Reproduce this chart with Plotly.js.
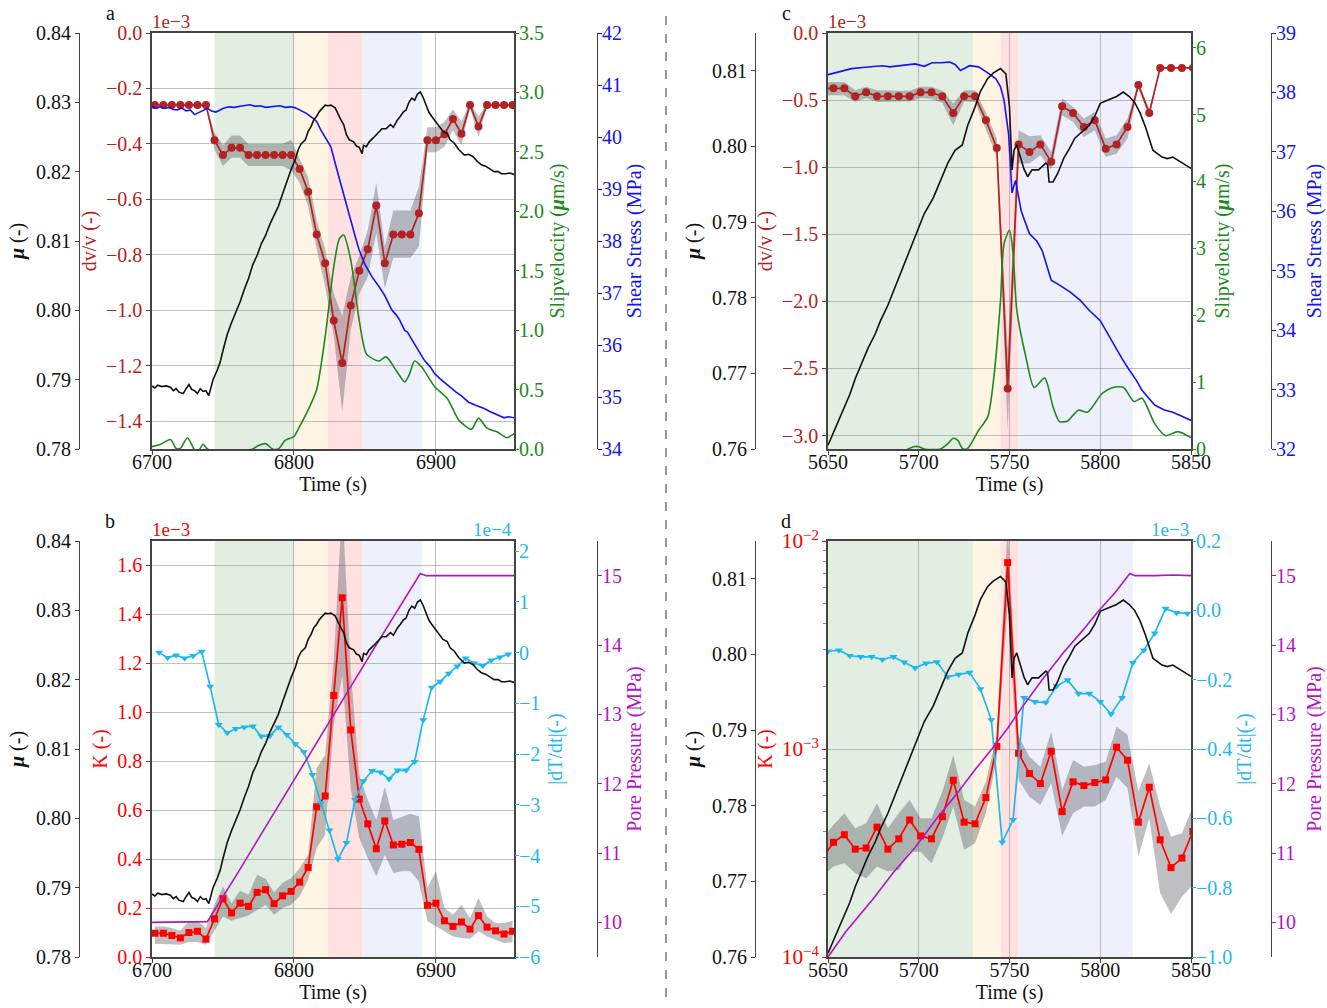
<!DOCTYPE html>
<html>
<head>
<meta charset="utf-8">
<script src="https://cdn.plot.ly/plotly-3.0.1.min.js"></script>
<style>html,body{margin:0;padding:0;background:#fff}</style>
</head>
<body>
<div id="chart" style="width:1327px;height:1008px"></div>
<script>
// ── event 1 (panels a, b) ─────────────────────────────────────────────────────
const aPhases = [6744, 6800.5, 6824, 6848, 6890];

const aMuTime = [6700,6702,6704,6707,6710,6713,6715,6717,6719,6722,6724,6726,6728,6730,6732,6734,6736,6738,6740,6743,6746,6748,6750,6753,6756,6759,6762,6765,6768,6771,6774,6777,6780,6783,6786,6789,6792,6795,6798,6801,6803,6805,6808,6810,6812,6814,6816,6818,6820,6822,6824,6826,6829,6831,6833,6835,6837,6839,6842,6844,6846,6848,6849,6851,6853,6856,6859,6862,6865,6868,6870,6873,6875,6877,6879,6881,6883,6885,6887,6889,6891,6893,6895,6897,6900,6903,6905,6908,6910,6913,6916,6918,6920,6923,6926,6929,6932,6935,6938,6941,6944,6946,6949,6952,6955];
const aMu = [.7891,.7888,.7892,.7890,.7891,.7889,.7884,.7887,.7882,.7880,.7887,.7893,.7886,.7884,.7880,.7887,.7883,.7884,.7877,.7900,.7914,.7925,.7942,.7965,.7982,.7997,.8012,.8030,.8046,.8066,.8079,.8096,.8108,.8124,.8136,.8150,.8168,.8186,.8203,.8218,.8232,.8240,.8246,.8258,.8265,.8275,.8280,.8287,.8292,.8296,.8295,.8296,.8292,.8283,.8275,.8268,.8253,.8246,.8243,.8237,.8235,.8226,.8238,.8236,.8243,.8249,.8256,.8262,.8262,.8268,.8264,.8275,.8280,.8286,.8289,.8300,.8306,.8303,.8312,.8315,.8307,.8297,.8286,.8280,.8272,.8265,.8258,.8255,.8246,.8241,.8232,.8228,.8224,.8225,.8222,.8215,.8210,.8208,.8204,.8200,.8200,.8197,.8197,.8198,.8196];

const aSample = [6702,6708,6714,6720,6726,6732,6738,6744,6750,6756,6762,6768,6774,6780,6786,6792,6798,6804,6810,6816,6822,6828,6834,6840,6846,6852,6858,6864,6870,6876,6882,6888,6894,6900,6906,6912,6918,6924,6930,6936,6942,6948,6954];
const aDvv = [-.26,-.26,-.26,-.26,-.26,-.26,-.26,-.387,-.44,-.414,-.414,-.44,-.44,-.44,-.44,-.44,-.44,-.49,-.572,-.727,-.83,-1.037,-1.19,-.983,-.857,-.78,-.622,-.83,-.727,-.727,-.727,-.65,-.387,-.387,-.365,-.31,-.363,-.26,-.337,-.26,-.26,-.26,-.26];
const aDvvUp = [-.255,-.255,-.255,-.255,-.255,-.255,-.255,-.36,-.405,-.37,-.37,-.40,-.40,-.40,-.40,-.40,-.385,-.45,-.52,-.675,-.78,-.94,-1.02,-.88,-.805,-.71,-.54,-.77,-.64,-.64,-.64,-.555,-.34,-.34,-.32,-.275,-.32,-.25,-.30,-.255,-.255,-.255,-.255];
const aDvvLo = [-.265,-.265,-.265,-.265,-.265,-.265,-.265,-.42,-.48,-.45,-.45,-.48,-.48,-.48,-.48,-.48,-.495,-.54,-.625,-.78,-.915,-1.09,-1.365,-1.07,-.94,-.88,-.72,-.92,-.81,-.81,-.81,-.77,-.43,-.43,-.41,-.35,-.405,-.27,-.375,-.265,-.265,-.265,-.265];

const aSlipTime = [6700,6706,6713,6717,6720,6725,6729.5,6732,6736,6739,6750,6771,6775,6780,6785,6789,6794,6800,6804,6811,6816,6822,6828,6832,6835,6840,6846,6851,6857,6860,6865,6872,6878,6881,6885,6890,6899,6908,6916,6925,6930,6936,6943,6950,6955];
const aSlip = [.02,.04,.08,.005,.005,.095,0,-.03,.04,0,-.05,0,.03,.045,0,0,.075,.105,.19,.355,.5,.945,1.53,1.77,1.8,1.59,1.08,.8,.75,.74,.775,.66,.565,.62,.74,.69,.525,.425,.245,.165,.26,.175,.145,.095,.13];

const aShearTime = [6700,6703,6706,6709,6712,6715,6718,6721,6724,6727,6730,6733,6735,6739,6742,6745,6748,6750,6754,6758,6762,6766,6769,6773,6776,6780,6783,6787,6790,6794,6798,6801,6804,6807,6809,6813,6816,6819,6823,6826,6830,6834,6837,6840,6843,6846,6850,6855,6860,6864,6867,6869,6872,6874,6878,6880,6882,6886,6889,6892,6896,6899,6903,6906,6910,6914,6918,6923,6928,6934,6938,6941,6945,6948,6951,6955];
const aShear = [40.59,40.55,40.58,40.55,40.57,40.53,40.52,40.56,40.5,40.52,40.43,40.47,40.5,40.55,40.5,40.48,40.52,40.55,40.58,40.57,40.59,40.6,40.62,40.59,40.6,40.57,40.58,40.6,40.6,40.57,40.58,40.56,40.52,40.49,40.45,40.37,40.3,40.13,39.95,39.81,39.4,38.98,38.7,38.4,38.1,37.82,37.55,37.31,37.12,36.95,36.78,36.67,36.58,36.5,36.28,36.25,36.15,35.96,35.82,35.7,35.58,35.45,35.35,35.28,35.18,35.1,35.02,34.9,34.84,34.78,34.72,34.68,34.63,34.6,34.62,34.6];

const aK = [.097,.097,.088,.078,.10,.105,.073,.156,.238,.18,.22,.207,.264,.275,.218,.25,.268,.306,.366,.614,.658,1.069,1.468,.928,.645,.544,.442,.556,.458,.461,.468,.44,.211,.22,.148,.125,.143,.114,.169,.122,.107,.094,.105];
const aKUp = [.125,.125,.118,.107,.146,.148,.118,.214,.288,.22,.271,.254,.336,.32,.265,.302,.322,.363,.418,.771,.826,1.207,1.85,1.166,.744,.642,.56,.697,.56,.574,.585,.574,.282,.35,.2,.173,.214,.159,.241,.166,.139,.139,.148];
const aKLo = [.053,.053,.053,.05,.061,.061,.05,.107,.166,.148,.159,.17,.193,.214,.173,.2,.214,.248,.316,.445,.5,.948,1.15,.69,.486,.404,.329,.418,.343,.35,.35,.309,.146,.125,.105,.084,.078,.075,.105,.084,.071,.057,.06];

const aDtTime = [6705,6711,6717,6723,6729,6735,6741,6747,6753,6759,6765,6771,6777,6783,6789,6795,6801,6807,6813,6819,6825,6831,6837,6843,6849,6855,6861,6867,6873,6879,6885,6891,6897,6903,6909,6915,6921,6927,6933,6939,6945,6951];
const aDt = [0,-.1,-.05,-.11,-.06,.02,-.67,-1.42,-1.58,-1.5,-1.47,-1.45,-1.65,-1.64,-1.47,-1.62,-1.8,-1.96,-2.41,-2.97,-3.5,-4.07,-3.75,-2.9,-2.53,-2.33,-2.36,-2.49,-2.32,-2.32,-2.15,-1.33,-.69,-.57,-.41,-.27,-.11,-.21,-.26,-.15,-.09,-.03];

const aPoreTime = [6700,6720,6739,6760,6780,6800,6820,6840,6860,6880,6889,6893,6905,6920,6935,6955];
const aPore = [10.0,10.0,10.01,10.7,11.38,12.05,12.72,13.4,14.07,14.73,15.03,15.0,15.0,15.01,15.0,15.0];

// ── event 2 (panels c, d) ─────────────────────────────────────────────────────
const cPhases = [5650, 5730, 5745, 5755, 5818];

const cMuTime = [5650,5654,5658,5662,5665,5669,5672,5676,5679,5683,5686,5691,5696,5700,5703,5708,5712,5716,5720,5724,5727,5731,5734,5738,5741,5745,5748,5750,5751.4,5752.5,5754,5756.5,5758,5760,5762.4,5766,5768,5770,5771,5771.8,5774,5776.5,5780,5783,5786,5790,5794,5797,5800,5803,5806,5809,5812.7,5816,5819,5822,5825,5829,5834,5837,5840,5845.5,5850];
const cMu = [.7605,.7628,.7651,.7672,.7693,.7715,.7733,.7752,.7770,.7790,.7808,.7838,.7867,.7892,.7911,.7932,.7956,.7978,.7995,.8002,.8028,.8052,.8073,.8090,.8097,.8103,.8096,.8052,.7969,.7995,.8002,.7982,.7970,.7960,.7969,.7969,.7974,.7978,.7976,.7953,.7953,.7964,.7985,.7997,.8011,.8020,.8028,.8040,.8057,.8060,.8063,.8066,.8072,.8066,.8058,.8044,.8025,.7995,.7986,.7984,.7986,.7978,.7971];

const cSample = [5647,5653,5659,5665,5671,5677,5683,5689,5695,5701,5707,5713,5719,5725,5731,5737,5743,5749,5755,5761,5767,5773,5779,5785,5791,5797,5803,5809,5815,5821,5827,5833,5839,5845,5851];
const cDvv = [-.412,-.412,-.412,-.472,-.442,-.472,-.472,-.472,-.472,-.442,-.442,-.472,-.596,-.472,-.472,-.65,-.857,-2.65,-.83,-.886,-.83,-.96,-.546,-.596,-.7,-.65,-.862,-.83,-.7,-.387,-.596,-.26,-.26,-.26,-.26];
const cDvvUp = [-.365,-.365,-.365,-.427,-.40,-.427,-.43,-.43,-.43,-.40,-.40,-.43,-.526,-.427,-.427,-.59,-.787,-2.36,-.725,-.77,-.762,-.886,-.489,-.551,-.638,-.589,-.787,-.762,-.638,-.365,-.564,-.255,-.255,-.255,-.255];
const cDvvLo = [-.464,-.464,-.464,-.514,-.485,-.514,-.51,-.51,-.51,-.485,-.49,-.52,-.688,-.51,-.514,-.712,-.924,-2.96,-.973,-.973,-.911,-1.017,-.613,-.663,-.775,-.725,-.924,-.899,-.787,-.415,-.626,-.265,-.265,-.265,-.265];

const cSlipTime = [5650,5690,5697,5700,5703,5712,5716,5719,5721.5,5724,5726.6,5733,5738,5741,5745,5747,5750,5752,5754,5759,5763.6,5769.4,5774,5777.6,5782,5788,5793,5801,5807,5812.8,5818.6,5823,5830,5836,5842.7,5850];
const cSlip = [-.05,-.05,.035,.035,0,0,.08,.16,.13,.01,0,.28,.48,.98,2.2,3.07,3.27,2.92,2.08,1.38,.92,1.06,.63,.41,.42,.58,.55,.83,.92,.92,.71,.76,.38,.2,.26,.17];

const cShearTime = [5650,5656,5663,5669,5675,5680,5684,5691,5698,5703,5707.4,5712,5717,5720,5723,5728,5733,5738,5742.5,5745,5747,5749.5,5751.4,5753.3,5756.5,5761,5765,5768,5773,5778,5783.5,5789,5794,5800,5804,5808,5812,5816,5820,5823,5830,5835,5840,5845,5850];
const cShear = [38.3,38.35,38.4,38.42,38.44,38.45,38.43,38.46,38.48,38.44,38.5,38.5,38.51,38.47,38.37,38.45,38.43,38.33,38.23,38.1,37.87,37.3,36.31,36.52,36.0,35.62,35.5,35.34,34.84,34.75,34.64,34.5,34.33,34.16,33.95,33.72,33.52,33.33,33.15,32.99,32.74,32.66,32.62,32.55,32.48];

const cK = [2.99e-4,3.56e-4,3.87e-4,3.30e-4,3.34e-4,4.21e-4,3.30e-4,3.70e-4,4.56e-4,3.82e-4,3.70e-4,4.73e-4,7.08e-4,4.45e-4,4.37e-4,5.84e-4,1.03e-3,7.87e-3,9.53e-4,7.62e-4,6.82e-4,9.75e-4,5.0e-4,6.95e-4,6.67e-4,6.9e-4,7.1e-4,1.02e-3,8.83e-4,4.45e-4,6.55e-4,3.66e-4,2.69e-4,2.99e-4,4.01e-4];
const cKUp = [3.72e-4,4.32e-4,4.91e-4,4.16e-4,4.40e-4,5.48e-4,4.16e-4,4.91e-4,5.69e-4,4.65e-4,4.65e-4,6.24e-4,9.35e-4,5.69e-4,5.29e-4,6.97e-4,1.17e-3,1.19e-2,1.15e-3,9.18e-4,8.22e-4,1.21e-3,6.35e-4,8.85e-4,8.22e-4,8.38e-4,8.69e-4,1.28e-3,1.17e-3,6.24e-4,8.53e-4,5.29e-4,3.79e-4,3.94e-4,5.29e-4];
const cKLo = [2.44e-4,2.72e-4,2.82e-4,2.53e-4,2.39e-4,2.72e-4,2.58e-4,2.62e-4,3.21e-4,3.21e-4,2.82e-4,3.72e-4,5.29e-4,3.27e-4,3.52e-4,4.91e-4,9.02e-4,4.91e-3,7.10e-4,5.90e-4,5.38e-4,6.84e-4,3.82e-4,4.91e-4,5.29e-4,5.29e-4,5.69e-4,7.36e-4,6.47e-4,3.04e-4,4.65e-4,2.03e-4,1.61e-4,1.95e-4,2.22e-4];

const cDtTime = [5650,5656,5662,5668,5674,5680,5686,5692,5698,5704,5710,5716,5722,5728,5734,5740,5746,5752,5758,5764,5770,5776,5782,5788,5794,5800,5806,5812,5818,5824,5830,5836,5842,5848];
const cDt = [-.118,-.115,-.131,-.134,-.134,-.142,-.134,-.15,-.166,-.153,-.149,-.192,-.185,-.179,-.227,-.316,-.669,-.604,-.252,-.264,-.266,-.218,-.201,-.24,-.24,-.264,-.299,-.252,-.151,-.115,-.066,.005,-.007,-.009];

const cPoreTime = [5650,5660,5674.6,5686,5698,5710,5721.4,5731,5740.6,5749,5756.6,5768,5780,5790,5798.7,5808,5816.3,5819,5830,5840,5850];
const cPore = [9.5,9.87,10.33,10.72,11.08,11.5,11.87,12.2,12.51,12.8,13.09,13.5,13.9,14.2,14.48,14.75,15.03,15.0,15.0,15.01,15.0];

const PHASE_COLORS = ['#e2eee2', '#fff5e4', '#ffe1e1', '#eef0fc'];
const GRID = 'rgba(130,130,130,0.5)';
const SPINE = '#444444';
const SERIF = '"Liberation Serif", "Times New Roman", serif';
const C = { brick: '#b22222', red: '#ff0000', green: '#1c8a1c', blue: '#1414f0', sky: '#1fb8ee', purple: '#b414c4' };

const W = 1327, H = 1008;
const traces = [], shapes = [], annotations = [];
const layout = {
  width: W, height: H,
  margin: { t: 0, r: 0, b: 0, l: 0 },
  paper_bgcolor: '#fff', plot_bgcolor: 'rgba(0,0,0,0)',
  showlegend: false,
  font: { family: SERIF, size: 20, color: '#111' },
};

function _line(x, y, xa, ya, color, smooth) {
  const line = { color, width: 1.6 };
  if (smooth) { line.shape = 'spline'; line.smoothing = 0.7; }
  traces.push({ x, y, xaxis: xa, yaxis: ya, mode: 'lines', line, hoverinfo: 'skip' });
}

function _markers(x, y, xa, ya, color, symbol, size) {
  traces.push({
    x, y, xaxis: xa, yaxis: ya, mode: 'lines+markers',
    line: { color, width: 1.7 }, marker: { color, symbol, size }, hoverinfo: 'skip',
  });
}

function _band(x, up, lo, xa, ya) {
  traces.push({
    x: x.concat(x.slice().reverse()), y: up.concat(lo.slice().reverse()),
    xaxis: xa, yaxis: ya, mode: 'lines', line: { width: 0 },
    fill: 'toself', fillcolor: 'rgba(55,55,65,0.32)', hoverinfo: 'skip',
  });
}

function _yAxis(color, titleText, standoff, extra) {
  return Object.assign({
    title: { text: titleText, font: { size: 20, color }, standoff },
    tickfont: { size: 20, color },
    ticks: 'outside', ticklen: 4, tickcolor: color, tickwidth: 1.2,
    showgrid: false, zeroline: false, automargin: false,
  }, extra);
}

// One panel = x axis + main y axis (left) + right y axis + two free y axes
function addPanel(p) {
  const n = p.n;                       // panel number 0..3
  const xName = n === 0 ? 'x' : 'x' + (n + 1);
  const yId = i => (n * 4 + i === 1 ? 'y' : 'y' + (n * 4 + i));
  const yKey = i => (n * 4 + i === 1 ? 'yaxis' : 'yaxis' + (n * 4 + i));
  const dom = [(H - p.bottom) / H, (H - p.top) / H];

  layout[n === 0 ? 'xaxis' : 'xaxis' + (n + 1)] = {
    domain: [p.left / W, p.right / W], range: p.xRange, dtick: p.xTick, anchor: yId(1),
    title: { text: 'Time (s)', font: { size: 20, color: '#111' }, standoff: 4 },
    tickfont: { size: 20, color: '#111' }, ticks: 'outside', ticklen: 4, tickcolor: SPINE,
    ticklabelstandoff: -10,
    showgrid: true, gridcolor: GRID, gridwidth: 1, zeroline: false, automargin: false,
    showline: true, linecolor: SPINE, linewidth: 1.5, mirror: true,
  };
  layout[yKey(1)] = _yAxis(p.mainColor, p.mainTitle, p.mainStandoff, Object.assign({
    domain: dom, anchor: xName, side: 'left',
    showgrid: true, gridcolor: GRID, gridwidth: 1.4,
    showline: true, linecolor: SPINE, linewidth: 1.5, mirror: true,
  }, p.mainAxis));
  layout[yKey(2)] = _yAxis(p.rightColor, p.rightTitle, p.rightStandoff, Object.assign({
    domain: dom, anchor: xName, side: 'right', overlaying: yId(1), ticklabelstandoff: -4,
  }, p.rightAxis));
  layout[yKey(3)] = _yAxis(p.farColor, p.farTitle, p.farStandoff, Object.assign({
    domain: dom, anchor: 'free', position: p.farPos / W, side: 'right', overlaying: yId(1),
    showline: true, linecolor: SPINE, linewidth: 1.2, ticklabelstandoff: -4,
  }, p.farAxis));
  layout[yKey(4)] = _yAxis('#111', '<b><i>μ</i></b> (-)', 4, {
    domain: dom, anchor: 'free', position: p.muPos / W, side: 'left', overlaying: yId(1),
    showline: true, linecolor: SPINE, linewidth: 1.2, tickcolor: SPINE,
    range: p.muRange, dtick: 0.01, tick0: 0.76, tickformat: '.2f',
  });

  // stage shading
  for (let i = 0; i < 4; i++) {
    shapes.push({
      type: 'rect', layer: 'below', xref: xName, yref: yId(1) + ' domain',
      x0: p.phases[i], x1: p.phases[i + 1], y0: 0, y1: 1,
      fillcolor: PHASE_COLORS[i], line: { width: 0 },
    });
  }

  _band(p.sample, p.up, p.lo, xName, yId(1));
  _markers(p.sample, p.main, xName, yId(1), p.mainColor, p.mainSymbol, p.mainSize);
  if (p.rightMarkers) _markers(p.rightX, p.rightY, xName, yId(2), p.rightColor, 'triangle-down', 7);
  else _line(p.rightX, p.rightY, xName, yId(2), p.rightColor, true);
  _line(p.farX, p.farY, xName, yId(3), p.farColor);
  _line(p.muX, p.mu, xName, yId(4), '#111');

  annotations.push({
    text: p.letter, xref: 'paper', yref: 'paper', x: p.letterX / W, y: (H - p.top + 20) / H,
    showarrow: false, xanchor: 'center', yanchor: 'middle', font: { size: 20, color: '#111' },
  });
  if (p.leftExp) annotations.push({
    text: p.leftExp, xref: xName + ' domain', yref: yId(1) + ' domain', x: 0, y: 1, yshift: -1, xshift: -2,
    showarrow: false, xanchor: 'left', yanchor: 'bottom', font: { size: 19, color: p.mainColor },
  });
  if (p.rightExp) annotations.push({
    text: p.rightExp, xref: xName + ' domain', yref: yId(1) + ' domain', x: 1, y: 1, yshift: -1,
    showarrow: false, xanchor: 'right', yanchor: 'bottom', font: { size: 19, color: p.rightColor },
  });
}

const TOP_ROW = { top: 33, bottom: 449 };
const BOTTOM_ROW = { top: 541, bottom: 957 };
const LEFT_COL = { left: 152, right: 514, xRange: [6700, 6955], xTick: 100, muPos: 79, farPos: 597, letterX: 110, phases: aPhases, muX: aMuTime, mu: aMu, muRange: [0.78, 0.84], sample: aSample };
const RIGHT_COL = { left: 828, right: 1191, xRange: [5650, 5850], xTick: 50, muPos: 755, farPos: 1271, letterX: 786, phases: cPhases, muX: cMuTime, mu: cMu, muRange: [0.76, 0.815], sample: cSample };
const PORE = { farColor: C.purple, farTitle: 'Pore Pressure (MPa)', farAxis: { range: [9.5, 15.5], dtick: 1, tick0: 10 } };
const SLIP_TITLE = 'Slipvelocity (<b><i>μ</i></b>m/s)';

addPanel({ n: 0, letter: 'a', ...TOP_ROW, ...LEFT_COL,
  up: aDvvUp, lo: aDvvLo, main: aDvv, mainColor: C.brick, mainSymbol: 'circle', mainSize: 8,
  mainTitle: 'dv/v (-)', mainStandoff: 4, leftExp: '1e−3',
  mainAxis: { range: [-1.5, 0], dtick: 0.2, tick0: 0, tickformat: '.1f' },
  rightX: aSlipTime, rightY: aSlip, rightColor: C.green, rightTitle: SLIP_TITLE, rightStandoff: 6,
  rightAxis: { range: [0, 3.5], dtick: 0.5, tickformat: '.1f' },
  farX: aShearTime, farY: aShear, farColor: C.blue, farTitle: 'Shear Stress (MPa)', farStandoff: 5,
  farAxis: { range: [34, 42], dtick: 1 },
});
addPanel({ n: 1, letter: 'b', ...BOTTOM_ROW, ...LEFT_COL,
  up: aKUp, lo: aKLo, main: aK, mainColor: C.red, mainSymbol: 'square', mainSize: 7,
  mainTitle: 'K (-)', mainStandoff: 4, leftExp: '1e−3', rightExp: '1e−4',
  mainAxis: { range: [0, 1.7], dtick: 0.2, tick0: 0, tickformat: '.1f' },
  rightX: aDtTime, rightY: aDt, rightColor: C.sky, rightMarkers: true, rightTitle: '|dT/dt|(-)', rightStandoff: 8,
  rightAxis: { range: [-6, 2.2], dtick: 1, tick0: 0 },
  farX: aPoreTime, farY: aPore, ...PORE, farStandoff: 5,
});
addPanel({ n: 2, letter: 'c', ...TOP_ROW, ...RIGHT_COL,
  up: cDvvUp, lo: cDvvLo, main: cDvv, mainColor: C.brick, mainSymbol: 'circle', mainSize: 8,
  mainTitle: 'dv/v (-)', mainStandoff: 4, leftExp: '1e−3',
  mainAxis: { range: [-3.1, 0], dtick: 0.5, tick0: 0, tickformat: '.1f' },
  rightX: cSlipTime, rightY: cSlip, rightColor: C.green, rightTitle: SLIP_TITLE, rightStandoff: 9,
  rightAxis: { range: [0, 6.22], dtick: 1 },
  farX: cShearTime, farY: cShear, farColor: C.blue, farTitle: 'Shear Stress (MPa)', farStandoff: 11,
  farAxis: { range: [32, 39], dtick: 1 },
});
addPanel({ n: 3, letter: 'd', ...BOTTOM_ROW, ...RIGHT_COL,
  up: cKUp, lo: cKLo, main: cK, mainColor: C.red, mainSymbol: 'square', mainSize: 7,
  mainTitle: 'K (-)', mainStandoff: 4, rightExp: '1e−3',
  mainAxis: { type: 'log', range: [-4, -2], dtick: 1, exponentformat: 'power', tickfont: { size: 17, color: C.red },
    minor: { ticks: 'outside', ticklen: 3, tickcolor: '#888', dtick: 'D1', showgrid: false } },
  rightX: cDtTime, rightY: cDt, rightColor: C.sky, rightMarkers: true, rightTitle: '|dT/dt|(-)', rightStandoff: 5,
  rightAxis: { range: [-1, 0.2], dtick: 0.2, tick0: 0, tickformat: '.1f' },
  farX: cPoreTime, farY: cPore, ...PORE, farStandoff: 11,
});

// dashed divider between the two events
shapes.push({
  type: 'line', xref: 'paper', yref: 'paper', x0: 666 / W, x1: 666 / W, y0: 11 / H, y1: 996 / H,
  line: { color: '#777', width: 1.5, dash: 'dash' },
});

layout.shapes = shapes;
layout.annotations = annotations;
Plotly.newPlot('chart', traces, layout, { displayModeBar: false });
</script>
</body>
</html>
